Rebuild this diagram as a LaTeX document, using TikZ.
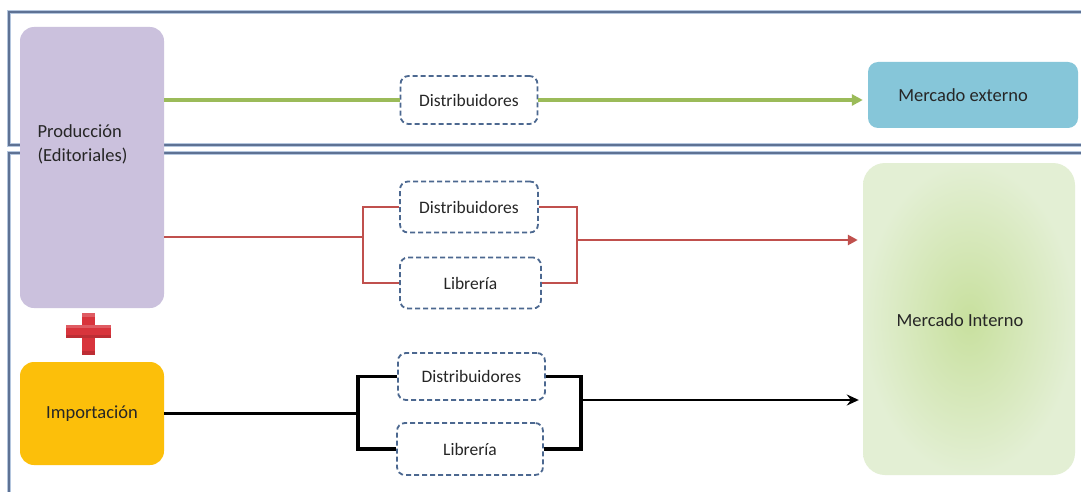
\documentclass[tikz,border=0pt]{standalone}
\usepackage{fontspec}
\setmainfont{Carlito}
\usetikzlibrary{arrows.meta,calc}
\definecolor{framec}{HTML}{5E7294}
\definecolor{framelight}{HTML}{B4C6DE}
\definecolor{prodc}{HTML}{CBC1DD}
\definecolor{impc}{HTML}{FCBF0A}
\definecolor{extc}{HTML}{86C6D9}
\definecolor{intin}{HTML}{C8E09E}
\definecolor{intout}{HTML}{E3EFD4}
\definecolor{dashc}{HTML}{4C6890}
\definecolor{greenl}{HTML}{9BBB59}
\definecolor{redl}{HTML}{C0504D}
\definecolor{plusc}{HTML}{D8343C}
\definecolor{txt}{HTML}{262626}
\tikzset{
  frame/.style={draw=framec, line width=2.6pt},
  framefringe/.style={draw=framelight, line width=4.2pt},
  block/.style={rounded corners=14pt, inner sep=0pt, text=txt, font=\fontsize{18.5}{22}\selectfont},
  channel/.style={draw=dashc, line width=1.8pt, dash pattern=on 5pt off 3pt,
    rounded corners=8pt, fill=white, inner sep=0pt, text=txt,
    font=\fontsize{17.5}{21}\selectfont},
  greenflow/.style={draw=greenl, line width=3.2pt},
  redflow/.style={draw=redl, line width=2.9pt},
  blackflow/.style={draw=black, line width=2.8pt},
  blackbracket/.style={draw=black, line width=3.6pt},
}
\begin{document}
\begin{tikzpicture}[x=1pt,y=-1pt]
  \useasboundingbox (0,0) rectangle (1081,492);
  \fill[white] (0,0) rectangle (1081,492);
  \begin{scope}
    \clip (0,0) rectangle (1081,492);
    % two framing panels: exterior market above, interior market below
    \draw[framefringe] (1090,12) -- (9,12) -- (9,145) -- (1090,145);
    \draw[framefringe] (1090,153) -- (9,153) -- (9,495);
    \draw[frame] (1090,12) -- (9,12) -- (9,145) -- (1090,145);
    \draw[frame] (1090,153) -- (9,153) -- (9,495);
  \end{scope}

  % sources
  \node[block, fill=prodc, minimum width=144pt, minimum height=281pt] (prod) at (92,167.5) {};
  \node[text=txt, font=\fontsize{18.5}{24}\selectfont, align=left, anchor=west] (prodtext) at (34,144) {Producción\\(Editoriales)};
  \node[block, fill=impc, minimum width=144pt, minimum height=103pt] (imp) at (92,413.5) {Importación};

  % plus sign between the two sources
  \fill[plusc] (82,313) rectangle (95,355);
  \fill[plusc] (66,325) rectangle (111,338);
  \fill[white, opacity=0.2] (82,313) rectangle (95,317);
  \fill[white, opacity=0.2] (66,325) rectangle (111,328);
  \fill[black, opacity=0.12] (82,351) rectangle (95,355);
  \fill[black, opacity=0.12] (66,335) rectangle (111,338);

  % markets
  \node[block, rounded corners=10pt, fill=extc, minimum width=210pt, minimum height=66pt] (mext) at (973,95) {};
  \node[text=txt, font=\fontsize{18.5}{22}\selectfont] (mexttext) at (963,95) {Mercado externo};
  \node[block, rounded corners=22pt, shading=radial, inner color=intin, outer color=intout,
        minimum width=212pt, minimum height=312pt] (mint) at (969,319) {};
  \node[text=txt, font=\fontsize{18.5}{22}\selectfont] (minttext) at (960,320) {Mercado Interno};

  % intermediaries
  \node[channel, minimum width=137pt, minimum height=48pt] (d1) at (469,100) {Distribuidores};
  \node[channel, minimum width=138pt, minimum height=51pt] (d2) at (469,207) {Distribuidores};
  \node[channel, minimum width=141pt, minimum height=51pt] (l2) at (470.5,283) {Librería};
  \node[channel, minimum width=147pt, minimum height=47pt] (d3) at (471.5,376.5) {Distribuidores};
  \node[channel, minimum width=146pt, minimum height=52pt] (l3) at (470,449) {Librería};

  % export flow
  \draw[greenflow] (prod.east |- d1.west) -- (d1.west);
  \draw[greenflow, -{Triangle[length=11pt,width=11pt]}, shorten >=5pt] (d1.east) -- (mext.west |- d1.east);

  % domestic production flow
  \coordinate (rsplit) at (363,237);
  \coordinate (rjoin) at (577,240);
  \draw[redflow] (prod.east |- rsplit) -- (rsplit);
  \draw[redflow] (d2.west) -| (rsplit) |- (l2.west);
  \draw[redflow] (d2.east) -| (rjoin) |- (l2.east);
  \draw[redflow, -{Triangle[length=10pt,width=10pt]}, shorten >=5pt] (rjoin) -- (mint.west |- rjoin);

  % import flow
  \coordinate (bsplit) at (358,413.5);
  \coordinate (bjoin) at (581,400);
  \draw[blackflow] (imp.east) -- (bsplit);
  \draw[blackbracket] (d3.west) -| (bsplit) |- (l3.west);
  \draw[blackbracket] (d3.east) -| (bjoin) |- (l3.east);
  \draw[blackflow, -{Stealth[length=12pt,width=11pt,inset=4pt]}, shorten >=4pt] (bjoin) -- (mint.west |- bjoin);
\end{tikzpicture}
\end{document}
